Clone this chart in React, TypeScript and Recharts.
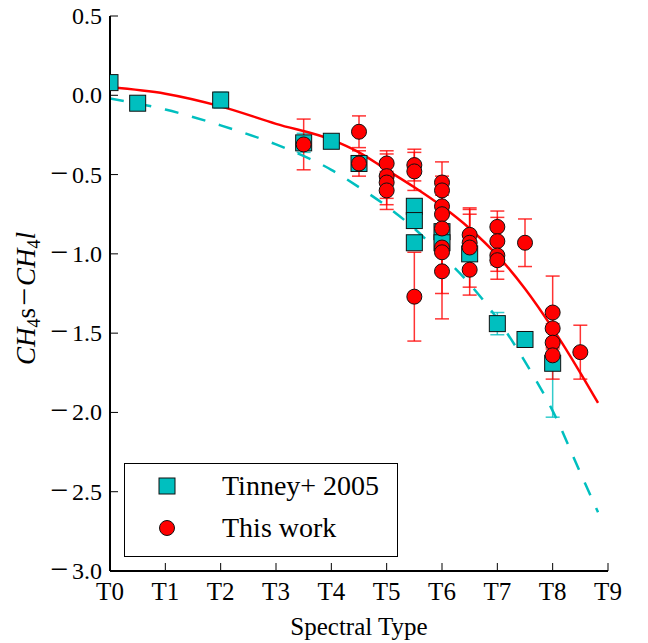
import {
  ComposedChart, Scatter, Line, XAxis, YAxis, ErrorBar,
} from 'recharts';

const SERIF = '"Liberation Serif", "DejaVu Serif", serif';
const CYAN = '#00BFBF';
const RED = '#FF0000';

// Tinney+ 2005 (spectral subtype, index, 1-sigma)
const tinneyX = [0, 0.5, 2, 3.5, 4, 4.5, 5.5, 5.5, 5.5, 6, 6, 6.5, 7, 7.5, 8];
const tinneyY = [0.08, -0.05, -0.03, -0.3, -0.29, -0.43, -0.7, -0.79, -0.93, -0.86, -0.93, -1.0, -1.44, -1.54, -1.69];
const tinneyErr = [0, 0, 0.05, 0.06, 0, 0.03, 0.03, 0.03, 0.03, 0, 0, 0, 0.07, 0, 0.34];

// This work
const workX = [
  3.5, 4.5, 4.5, 5, 5, 5, 5, 5.5, 5.5, 5.5,
  6, 6, 6, 6, 6, 6, 6, 6, 6.5, 6.5, 6.5, 6.5,
  7, 7, 7, 7, 7.5, 8, 8, 8, 8, 8.5,
];
const workY = [
  -0.31, -0.23, -0.43, -0.43, -0.51, -0.55, -0.6, -0.44, -0.48, -1.27,
  -0.55, -0.6, -0.7, -0.75, -0.84, -0.96, -0.99, -1.11, -0.88, -0.93, -0.96, -1.1,
  -0.83, -0.92, -1.01, -1.04, -0.93, -1.37, -1.47, -1.56, -1.64, -1.62,
];
const workErr = [
  0.16, 0.1, 0.08, 0.08, 0.14, 0.14, 0.12, 0.1, 0.12, 0.28,
  0.13, 0.09, 0.12, 0.12, 0.14, 0.14, 0.26, 0.3, 0.16, 0.18, 0.25, 0.16,
  0.1, 0.15, 0.1, 0.12, 0.15, 0.23, 0.12, 0.12, 0.15, 0.17,
];

// fitted relations
const fitX = [0, 1, 2, 3, 4, 4.5, 5, 5.5, 6, 6.5, 7, 7.5, 8, 8.5, 8.82];
const fitWork = [0.05, 0.01, -0.07, -0.18, -0.28, -0.36, -0.47, -0.58, -0.7, -0.84, -1.01, -1.22, -1.47, -1.75, -1.94];
const fitTinney = [-0.02, -0.09, -0.19, -0.31, -0.47, -0.58, -0.7, -0.84, -1.01, -1.19, -1.41, -1.68, -1.99, -2.38, -2.63];

const xTicks = [0, 1, 2, 3, 4, 5, 6, 7, 8, 9];
const yTicks = [0.5, 0, -0.5, -1, -1.5, -2, -2.5, -3];

const tinneyData = tinneyX.map((x, i) => ({ x, y: tinneyY[i], err: tinneyErr[i] }));
const workData = workX.map((x, i) => ({ x, y: workY[i], err: workErr[i] }));
const workFit = fitX.map((x, i) => ({ x, y: fitWork[i] }));
const tinneyFit = fitX.map((x, i) => ({ x, y: fitTinney[i] }));

const BottomTick = ({ x, y, payload }: any) => (
  <g>
    <line x1={x} x2={x} y1={y} y2={y - 8} stroke="#000" />
    <text x={x} y={y + 29} textAnchor="middle" fontFamily={SERIF} fontSize={25} fill="#000">
      T{payload.value}
    </text>
  </g>
);
const TopTick = ({ x, y }: any) => <line x1={x} x2={x} y1={y} y2={y + 8} stroke="#000" />;
const LeftTick = ({ x, y, payload }: any) => {
  const v: number = payload.value;
  return (
    <g>
      <line x1={x} x2={x + 8} y1={y} y2={y} stroke="#000" />
      <text x={x - 8} y={y + 8} textAnchor="end" fontFamily={SERIF} fontSize={24} fill="#000">
        {v < 0 && <tspan fontSize={32} dy={1}>{'\u2212'}</tspan>}
        {v < 0 ? <tspan dx={4} dy={-1}>{Math.abs(v).toFixed(1)}</tspan> : v.toFixed(1)}
      </text>
    </g>
  );
};
const RightTick = ({ x, y }: any) => <line x1={x} x2={x - 8} y1={y} y2={y} stroke="#000" />;

const Square = ({ cx, cy }: any) => (
  <rect x={cx - 8} y={cy - 8} width={16} height={16} fill={CYAN} stroke="#111" strokeWidth={1} />
);
const Dot = ({ cx, cy }: any) => (
  <circle cx={cx} cy={cy} r={7.5} fill={RED} stroke="#111" strokeWidth={1} />
);

const XTitle = ({ viewBox }: any) => (
  <text x={viewBox.x + viewBox.width / 2} y={viewBox.y + 64} textAnchor="middle"
    fontFamily={SERIF} fontSize={25} fill="#000">Spectral Type</text>
);
const YTitle = ({ viewBox }: any) => {
  const cx = viewBox.x + 35;
  const cy = viewBox.y + viewBox.height / 2 + 5;
  return (
    <text x={cx} y={cy} transform={`rotate(-90 ${cx} ${cy})`} textAnchor="middle"
      fontFamily={SERIF} fontSize={27} fill="#000">
      <tspan fontStyle="italic">CH</tspan>
      <tspan fontSize={18} dy={5}>4</tspan>
      <tspan dy={-5}>s</tspan>
      <tspan fontSize={32} dx={2}>{'\u2212'}</tspan>
      <tspan fontStyle="italic" dx={2}>CH</tspan>
      <tspan fontSize={18} dy={5}>4</tspan>
      <tspan fontStyle="italic" dy={-5}>l</tspan>
    </text>
  );
};

export default function App() {
  return (
    <div style={{ position: 'absolute', left: 0, top: 0, width: 648, height: 643, background: '#fff' }}>
      <ComposedChart width={648} height={643} margin={{ top: 16, right: 40, bottom: 12, left: 0 }}>
        <XAxis xAxisId="b" type="number" dataKey="x" domain={[0, 9]} ticks={xTicks} allowDataOverflow
          height={60} tickSize={0} tickMargin={0} tickLine={false} tick={<BottomTick />}
          axisLine={{ stroke: '#000', strokeWidth: 2 }} label={<XTitle />} />
        <XAxis xAxisId="t" orientation="top" type="number" dataKey="x" domain={[0, 9]} ticks={xTicks} allowDataOverflow
          height={0} tickSize={0} tickMargin={0} tickLine={false} tick={<TopTick />}
          axisLine={{ stroke: '#000', strokeWidth: 2 }} />
        <YAxis yAxisId="l" type="number" dataKey="y" domain={[-3, 0.5]} ticks={yTicks} allowDataOverflow
          width={110} tickSize={0} tickMargin={0} tickLine={false} tick={<LeftTick />}
          axisLine={{ stroke: '#000', strokeWidth: 2 }} label={<YTitle />} />
        <YAxis yAxisId="r" orientation="right" type="number" dataKey="y" domain={[-3, 0.5]} ticks={yTicks} allowDataOverflow
          width={0} tickSize={0} tickMargin={0} tickLine={false} tick={<RightTick />}
          axisLine={{ stroke: '#000', strokeWidth: 2 }} />

        <Scatter xAxisId="b" yAxisId="l" name="Tinney+ 2005" data={tinneyData} shape={<Square />} isAnimationActive={false}>
          <ErrorBar dataKey="err" direction="y" width={7} stroke={CYAN} strokeWidth={1.5} strokeOpacity={0.8} />
        </Scatter>
        <Scatter xAxisId="b" yAxisId="l" name="This work" data={workData} shape={<Dot />} isAnimationActive={false}>
          <ErrorBar dataKey="err" direction="y" width={7} stroke={RED} strokeWidth={1.5} strokeOpacity={0.8} />
        </Scatter>
        <Line xAxisId="b" yAxisId="l" data={tinneyFit} dataKey="y" type="monotone" stroke={CYAN} strokeWidth={2.5}
          strokeDasharray="14 14" dot={false} activeDot={false} isAnimationActive={false} />
        <Line xAxisId="b" yAxisId="l" data={workFit} dataKey="y" type="monotone" stroke={RED} strokeWidth={2.5}
          dot={false} activeDot={false} isAnimationActive={false} />
      </ComposedChart>

      <div style={{
        position: 'absolute', left: 124, top: 463, width: 274, height: 94, boxSizing: 'border-box',
        border: '1.5px solid #000', background: '#fff', fontFamily: SERIF, fontSize: 28, color: '#000',
      }}>
        {[
          { label: 'Tinney+ 2005', marker: <rect x={2} y={2} width={16} height={16} fill={CYAN} stroke="#111" /> },
          { label: 'This work', marker: <circle cx={10} cy={10} r={7.5} fill={RED} stroke="#111" /> },
        ].map((item, i) => (
          <div key={item.label} style={{ position: 'absolute', left: 0, top: 7 + i * 42, height: 30, width: '100%' }}>
            <svg width={20} height={20} style={{ position: 'absolute', left: 32, top: 5 }}>{item.marker}</svg>
            <span style={{ position: 'absolute', left: 97, top: 0, lineHeight: '30px', whiteSpace: 'nowrap' }}>{item.label}</span>
          </div>
        ))}
      </div>
    </div>
  );
}
